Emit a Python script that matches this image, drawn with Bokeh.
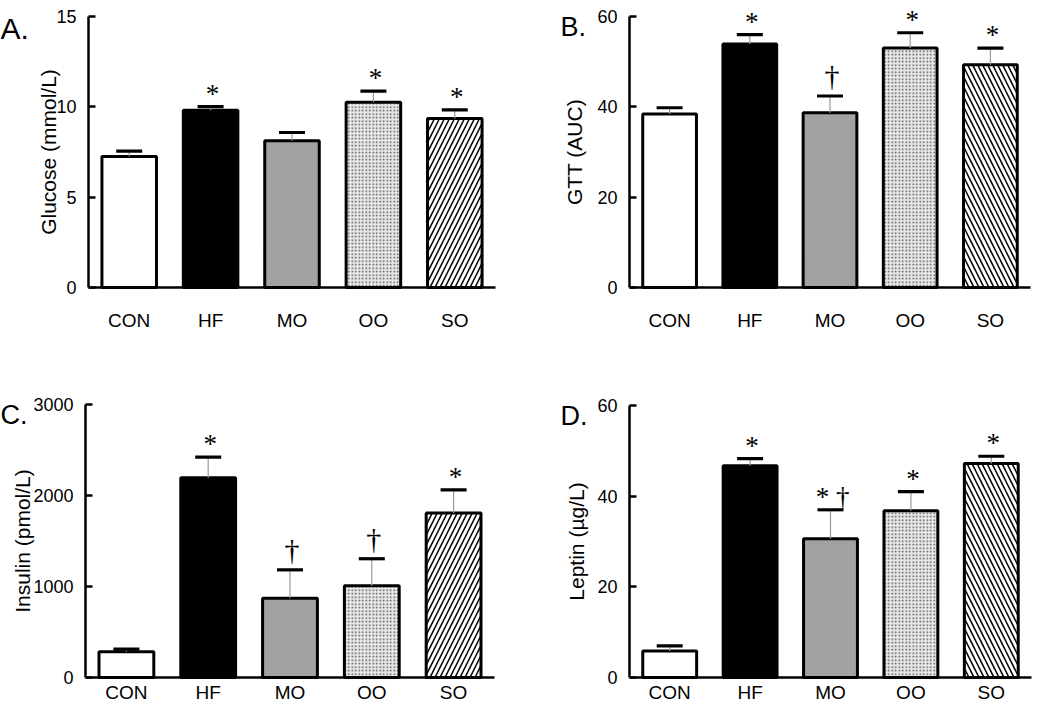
from bokeh.plotting import figure
from bokeh.models import ColumnDataSource, Range1d, FixedTicker
from bokeh.layouts import row, column
from bokeh.embed import file_html
from bokeh.resources import INLINE
from bokeh.core.properties import value

# ---------------- data ----------------
groups = ["CON", "HF", "MO", "OO", "SO"]

glucose_mean = [7.25, 9.81, 8.12, 10.26, 9.35]
glucose_sem = [0.30, 0.20, 0.46, 0.61, 0.48]
glucose_sig = ["", "*", "", "*", "*"]

gtt_mean = [38.4, 53.9, 38.7, 53.0, 49.3]
gtt_sem = [1.4, 2.1, 3.7, 3.4, 3.7]
gtt_sig = ["", "*", "\u2020", "*", "*"]

insulin_mean = [282, 2195, 871, 1007, 1809]
insulin_sem = [30, 227, 312, 298, 253]
insulin_sig = ["", "*", "\u2020", "\u2020", "*"]

leptin_mean = [5.86, 46.7, 30.6, 36.8, 47.2]
leptin_sem = [1.1, 1.6, 6.4, 4.2, 1.6]
leptin_sig = ["", "*", "* \u2020", "*", "*"]

# ---------------- styles ----------------
fill_colors = ["#ffffff", "#000000", "#a2a2a2", "#e8e8e8", "#ffffff"]
hatch_scales = [10, 10, 10, 3.5, 10]
hatch_weights = [1, 1, 1, 1.4, 1.5]
hatch_colors = ["black", "black", "black", "#505050", "black"]

SANS = "Liberation Sans"
SERIF = "Liberation Serif"


def make_panel(letter, ylabel, means, sems, sigs, ymax, ticks, so_pattern,
               width, height, axis_px, right_px, ytop_px, y0_px,
               xstandoff, ylabel_standoff, letter_dx, letter_dy, letter_size):
    n = len(groups)
    xs = [i + 0.5 for i in range(n)]
    xunit = (right_px - axis_px) / n
    yunit = (y0_px - ytop_px) / ymax

    upper = [m + s for m, s in zip(means, sems)]
    patterns = [" ", " ", " ", ".", so_pattern]
    yoff = [-4 if s == "\u2020" else 2 for s in sigs]
    fsize = ["30px" if s == "\u2020" else "27px" for s in sigs]
    src = ColumnDataSource(dict(
        x=xs, top=means, upper=upper, sig=sigs, yoff=yoff, fs=fsize,
        fill=fill_colors, hp=patterns, hs=hatch_scales, hw=hatch_weights, hc=hatch_colors,
    ))
    p = figure(x_range=Range1d(-axis_px / xunit, (width - axis_px) / xunit),
               y_range=Range1d(-(height - y0_px) / yunit, ymax + ytop_px / yunit),
               width=width, height=height,
               min_border_left=0, min_border_right=0,
               min_border_top=0, min_border_bottom=0,
               toolbar_location=None, output_backend="svg")
    p.outline_line_color = None
    p.grid.visible = False
    p.background_fill_color = "white"
    p.border_fill_color = "white"

    p.vbar(x="x", top="top", width=0.67, source=src,
           fill_color="fill", line_color="black", line_width=3,
           hatch_pattern="hp", hatch_scale="hs", hatch_weight="hw", hatch_color="hc")
    p.segment(x0="x", y0="top", x1="x", y1="upper", source=src,
              line_color="#9a9a9a", line_width=1.2)
    p.scatter(x="x", y="upper", source=src, marker="dash", size=26,
              line_color="black", line_width=3.2)
    p.text(x="x", y="upper", text="sig", source=src,
           text_font=value(SERIF), text_font_size="fs",
           text_align="center", text_baseline="bottom",
           x_offset=2, y_offset="yoff", text_color="black")

    # panel letter
    p.text(x=[-axis_px / xunit], y=[ymax], text=[letter],
           text_font=value(SANS), text_font_size=letter_size,
           text_align="left", text_baseline="alphabetic",
           x_offset=letter_dx, y_offset=letter_dy, text_color="black")

    # y axis
    ya = p.yaxis[0]
    ya.fixed_location = 0
    ya.ticker = FixedTicker(ticks=ticks)
    ya.bounds = (0, ymax)
    ya.minor_tick_line_color = None
    ya.major_tick_in = 7
    ya.major_tick_out = 0
    ya.major_tick_line_width = 2.5
    ya.axis_line_width = 2.5
    ya.major_label_text_font = SANS
    ya.major_label_text_font_size = "18px"
    ya.major_label_text_color = "black"
    ya.major_label_standoff = 12
    ya.axis_label = ylabel
    ya.axis_label_text_font = SANS
    ya.axis_label_text_font_style = "normal"
    ya.axis_label_text_font_size = "21px"
    ya.axis_label_text_color = "black"
    ya.axis_label_standoff = ylabel_standoff

    # x axis
    xa = p.xaxis[0]
    xa.fixed_location = 0
    xa.ticker = FixedTicker(ticks=xs)
    xa.major_label_overrides = {x: g for x, g in zip(xs, groups)}
    xa.bounds = (0, n)
    xa.major_tick_in = 0
    xa.major_tick_out = 0
    xa.major_tick_line_color = None
    xa.minor_tick_line_color = None
    xa.axis_line_width = 2.5
    xa.major_label_text_font = SANS
    xa.major_label_text_font_size = "19px"
    xa.major_label_text_color = "black"
    xa.major_label_standoff = xstandoff
    return p


pA = make_panel("A.", "Glucose (mmol/L)", glucose_mean, glucose_sem, glucose_sig,
                15, [0, 5, 10, 15], "/",
                512, 350, 88, 495, 16, 287, 22, -7, 0, 12, "30px")
pB = make_panel("B.", "GTT (AUC)", gtt_mean, gtt_sem, gtt_sig,
                60, [0, 20, 40, 60], "\\",
                522, 350, 117, 518, 16, 287, 22, 8, 48, 10, "27px")
pC = make_panel("C.", "Insulin (pmol/L)", insulin_mean, insulin_sem, insulin_sig,
                3000, [0, 1000, 2000, 3000], "/",
                512, 354, 85, 494, 54, 327, 4, -4, 0, 10, "27px")
pD = make_panel("D.", "Leptin (\u00b5g/L)", leptin_mean, leptin_sem, leptin_sig,
                60, [0, 20, 40, 60], "\\",
                522, 354, 117, 519, 55, 327, 4, 6, 48, 10, "27px")

layout = column(row(pA, pB), row(pC, pD))

open("out.html", "w").write(file_html(layout, INLINE))
